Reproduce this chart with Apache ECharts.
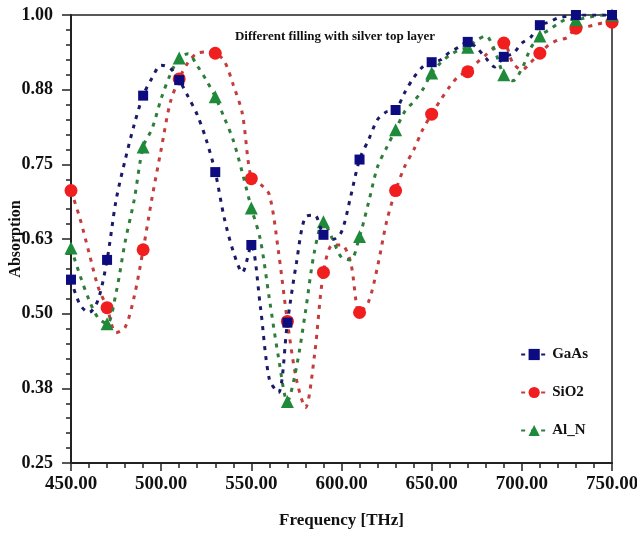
<!DOCTYPE html>
<html>
<head>
<meta charset="utf-8">
<script src="https://cdn.jsdelivr.net/npm/echarts@6/dist/echarts.min.js"></script>
<style>
  html, body { margin: 0; padding: 0; background: #fff; }
  #chart { width: 637px; height: 537px; }
</style>
</head>
<body>
<div id="chart"></div>
<script>
// frequency samples (THz), every 5
var freq = [450,455,460,465,470,475,480,485,490,495,500,505,510,515,520,525,530,535,540,545,
            550,555,560,565,570,575,580,585,590,595,600,605,610,615,620,625,630,635,640,645,
            650,655,660,665,670,675,680,685,690,695,700,705,710,715,720,725,730,735,740,745,750];

var gaas = [0.557,0.515,0.502,0.523,0.590,0.690,0.757,0.816,0.865,0.895,0.916,0.911,0.891,0.863,0.833,0.791,0.737,0.660,0.604,0.569,
            0.615,0.512,0.390,0.368,0.485,0.585,0.662,0.665,0.632,0.624,0.637,0.695,0.758,0.791,0.825,0.838,0.841,0.870,0.895,0.913,
            0.921,0.925,0.938,0.946,0.955,0.945,0.928,0.913,0.930,0.935,0.953,0.963,0.983,0.988,0.995,0.998,1.000,1.000,1.000,1.000,1.000];

var sio2 = [0.706,0.659,0.602,0.545,0.510,0.468,0.477,0.528,0.607,0.695,0.775,0.853,0.893,0.921,0.936,0.938,0.936,0.923,0.883,0.835,
            0.726,0.717,0.699,0.605,0.487,0.390,0.343,0.430,0.569,0.615,0.615,0.587,0.502,0.520,0.579,0.654,0.706,0.746,0.774,0.808,
            0.834,0.858,0.880,0.898,0.905,0.920,0.933,0.946,0.953,0.920,0.908,0.921,0.936,0.950,0.958,0.962,0.978,0.980,0.983,0.987,0.988];

var alN  = [0.610,0.564,0.523,0.493,0.483,0.535,0.620,0.690,0.779,0.810,0.860,0.900,0.928,0.935,0.915,0.891,0.863,0.828,0.790,0.736,
            0.677,0.624,0.525,0.428,0.353,0.410,0.503,0.604,0.654,0.625,0.594,0.590,0.629,0.686,0.746,0.778,0.808,0.838,0.855,0.875,
            0.903,0.920,0.933,0.941,0.946,0.958,0.965,0.940,0.900,0.890,0.910,0.945,0.965,0.975,0.985,0.993,0.992,0.995,0.998,1.000,1.000];

var names = ['GaAs', 'SiO2', 'Al_N'];
var yTicks = [0.25, 1.0, 0.125];   // min, max, step
var xTicks = [450, 750, 50];

var serif = '"Liberation Serif", "Times New Roman", serif';

function pairs(vals) {
    var out = [];
    for (var i = 0; i < freq.length; i++) out.push([freq[i], vals[i]]);
    return out;
}
// markers only every 20 THz
function marker(size) {
    return function (v) { return (v[0] - 450) % 20 === 0 ? size : 0; };
}

var myChart = echarts.init(document.getElementById('chart'));
myChart.setOption({
    animation: false,
    backgroundColor: '#fff',
    title: {
        text: 'Different filling with silver top layer',
        left: 330, top: 25, textAlign: 'center',
        textStyle: {fontFamily: serif, fontWeight: 'bold', fontSize: 13, color: '#111'}
    },
    grid: {
        left: 71, right: 25, top: 15, bottom: 74,
        show: true, borderColor: '#222', borderWidth: 1.5,
        containLabel: false, outerBoundsMode: 'none'
    },
    legend: {
        orient: 'vertical',
        right: 44, top: 342,
        itemWidth: 26, itemHeight: 14, itemGap: 23,
        data: names,
        textStyle: {fontFamily: serif, fontWeight: 'bold', fontSize: 15, color: '#111'}
    },
    xAxis: {
        type: 'value',
        min: xTicks[0], max: xTicks[1], interval: xTicks[2],
        name: 'Frequency [THz]',
        nameLocation: 'middle', nameGap: 49, nameMoveOverlap: false,
        nameTextStyle: {fontFamily: serif, fontWeight: 'bold', fontSize: 17, color: '#111'},
        axisLine: {lineStyle: {color: '#222', width: 2}},
        axisTick: {length: 8, lineStyle: {color: '#222', width: 1.5}},
        minorTick: {show: true, splitNumber: 5, length: 5, lineStyle: {color: '#222', width: 1.5}},
        splitLine: {show: false},
        axisLabel: {
            margin: 12, fontFamily: serif, fontWeight: 'bold', fontSize: 19, color: '#111',
            formatter: function (v) { return v.toFixed(2); }
        }
    },
    yAxis: {
        type: 'value',
        min: yTicks[0], max: yTicks[1], interval: yTicks[2],
        name: 'Absorption',
        nameLocation: 'middle', nameGap: 47, nameMoveOverlap: false,
        nameTextStyle: {fontFamily: serif, fontWeight: 'bold', fontSize: 16, color: '#111'},
        axisLine: {show: true, lineStyle: {color: '#222', width: 2}},
        axisTick: {show: true, length: 9, lineStyle: {color: '#222', width: 1.5}},
        minorTick: {show: true, splitNumber: 5, length: 5, lineStyle: {color: '#222', width: 1.5}},
        splitLine: {show: false},
        axisLabel: {
            margin: 18, fontFamily: serif, fontWeight: 'bold', fontSize: 18, color: '#111',
            formatter: function (v) { return v.toFixed(2); }
        }
    },
    series: [
        {
            name: 'SiO2', type: 'line', smooth: 0.3, z: 2,
            data: pairs(sio2),
            symbol: 'circle', symbolSize: marker(13),
            itemStyle: {color: '#f01e1e'},
            lineStyle: {color: '#c43c3c', width: 3, type: [4, 6]}
        },
        {
            name: 'Al_N', type: 'line', smooth: 0.3, z: 3,
            data: pairs(alN),
            symbol: 'triangle', symbolSize: marker(13),
            itemStyle: {color: '#1f8a3a'},
            lineStyle: {color: '#2f7d3a', width: 3, type: [4, 6]}
        },
        {
            name: 'GaAs', type: 'line', smooth: 0.3, z: 4,
            data: pairs(gaas),
            symbol: 'rect', symbolSize: marker(10),
            itemStyle: {color: '#0c0c80'},
            lineStyle: {color: '#1a1a66', width: 3, type: [4, 6]}
        }
    ]
});
</script>
</body>
</html>
